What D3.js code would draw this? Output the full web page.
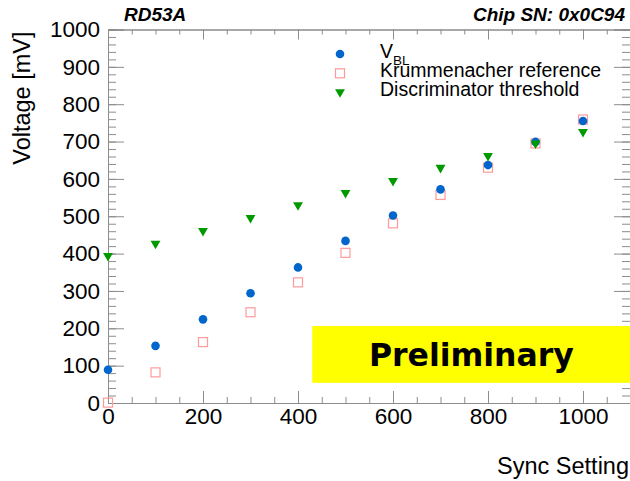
<!DOCTYPE html>
<html>
<head>
<meta charset="utf-8">
<script src="https://cdn.jsdelivr.net/npm/d3@7"></script>
<style>
  body { margin: 0; background: #fff; }
  svg { display: block; font-family: "Liberation Sans", Arial, sans-serif; }
</style>
</head>
<body>
<div id="chart"></div>
<script>
// data
const syncSetting = [0, 100, 200, 300, 400, 500, 600, 700, 800, 900, 1000]
const vbl = [89, 153, 224, 294, 363, 434, 502, 572, 637, 699, 755]
const krummenacher = [1, 82, 163, 243, 323, 402, 481, 557, 630, 695, 759]
const discThreshold = [394, 427, 461, 496, 530, 563, 595, 630, 662, 695, 726]

const xMajor = [0, 200, 400, 600, 800, 1000]
const yMajor = [0, 100, 200, 300, 400, 500, 600, 700, 800, 900, 1000]

const width = 630
const height = 481
const margin = {top: 29.5, right: 0, bottom: 78, left: 108}

const x = d3.scaleLinear().domain([0, 1100]).range([margin.left, 630.5])
const y = d3.scaleLinear().domain([0, 1000]).range([height - margin.bottom, margin.top])

const axisColor = '#8c8c8c'

const svg = d3.create('svg')
  .attr('width', width)
  .attr('height', height)
  .attr('viewBox', [0, 0, width, height])

document.getElementById('chart').appendChild(svg.node())

// frame ticks: minor first, then major
const xMinor = d3.range(0, 1101, 50)
const yMinor = d3.range(0, 1001, 20)

const styleAxis = g => {
  g.select('.domain').attr('stroke', axisColor)
  g.selectAll('.tick line').attr('stroke', axisColor)
  g.selectAll('text').attr('fill', '#000').attr('font-size', 22.5)
    .attr('font-family', '"Liberation Sans", Arial, sans-serif')
}

// bottom
svg.append('g')
  .attr('transform', `translate(0,${y(0)})`)
  .call(d3.axisBottom(x).tickValues(xMinor).tickSize(-6).tickFormat(''))
  .call(styleAxis)
svg.append('g')
  .attr('transform', `translate(0,${y(0)})`)
  .call(d3.axisBottom(x).tickValues(xMajor).tickSize(-12).tickPadding(5).tickFormat(d3.format('d')))
  .call(styleAxis)

// top
svg.append('g')
  .attr('transform', `translate(0,${y(1000)})`)
  .call(d3.axisTop(x).tickValues(xMinor).tickSize(-5).tickFormat(''))
  .call(styleAxis)
svg.append('g')
  .attr('transform', `translate(0,${y(1000)})`)
  .call(d3.axisTop(x).tickValues(xMajor).tickSize(-10).tickFormat(''))
  .call(styleAxis)

// left
svg.append('g')
  .attr('transform', `translate(${x(0)},0)`)
  .call(d3.axisLeft(y).tickValues(yMinor).tickSize(-8).tickFormat(''))
  .call(styleAxis)
svg.append('g')
  .attr('transform', `translate(${x(0)},0)`)
  .call(d3.axisLeft(y).tickValues(yMajor).tickSize(-16).tickPadding(8).tickFormat(d3.format('d')))
  .call(styleAxis)

// right
svg.append('g')
  .attr('transform', `translate(${x(1100) - 0.5},0)`)
  .call(d3.axisRight(y).tickValues(yMinor).tickSize(-8).tickFormat(''))
  .call(styleAxis)
svg.append('g')
  .attr('transform', `translate(${x(1100) - 0.5},0)`)
  .call(d3.axisRight(y).tickValues(yMajor).tickSize(-16).tickFormat(''))
  .call(styleAxis)

// axis titles
svg.append('text')
  .attr('transform', `translate(30,${y(1000) + 2}) rotate(-90)`)
  .attr('text-anchor', 'end')
  .attr('font-size', 23.5)
  .text('Voltage [mV]')

svg.append('text')
  .attr('x', 629)
  .attr('y', 474)
  .attr('text-anchor', 'end')
  .attr('font-size', 23.5)
  .text('Sync Setting')

// header
svg.append('text')
  .attr('x', 124)
  .attr('y', 21)
  .attr('font-size', 19)
  .attr('font-weight', 'bold')
  .attr('font-style', 'italic')
  .text('RD53A')

svg.append('text')
  .attr('x', 625)
  .attr('y', 21)
  .attr('text-anchor', 'end')
  .attr('font-size', 19)
  .attr('font-weight', 'bold')
  .attr('font-style', 'italic')
  .text('Chip SN: 0x0C94')

// preliminary banner
svg.append('rect')
  .attr('x', x(430))
  .attr('y', y(206))
  .attr('width', x(1100) - x(430))
  .attr('height', y(54) - y(206))
  .attr('fill', '#ffff00')

svg.append('text')
  .attr('x', (x(430) + x(1100)) / 2)
  .attr('y', 366)
  .attr('text-anchor', 'middle')
  .attr('font-family', '"DejaVu Sans", sans-serif')
  .attr('font-weight', 'bold')
  .attr('font-size', 31.5)
  .text('Preliminary')

// markers
const blue = '#0066cc'
const pink = '#ff9a9a'
const green = '#009900'
const tri = d3.symbol().type(d3.symbolTriangle).size(42)

svg.append('g')
  .selectAll('rect')
  .data(syncSetting.map((s, i) => ({s, v: krummenacher[i]})))
  .join('rect')
    .attr('x', d => x(d.s) - 4.5)
    .attr('y', d => y(d.v) - 4.5)
    .attr('width', 9)
    .attr('height', 9)
    .attr('fill', 'none')
    .attr('stroke', pink)
    .attr('stroke-width', 1.2)

svg.append('g')
  .selectAll('circle')
  .data(syncSetting.map((s, i) => ({s, v: vbl[i]})))
  .join('circle')
    .attr('cx', d => x(d.s))
    .attr('cy', d => y(d.v))
    .attr('r', 4.3)
    .attr('fill', blue)

svg.append('g')
  .selectAll('path')
  .data(syncSetting.map((s, i) => ({s, v: discThreshold[i]})))
  .join('path')
    .attr('d', tri)
    .attr('transform', d => `translate(${x(d.s)},${y(d.v)}) rotate(180)`)
    .attr('fill', green)

// legend
const legend = svg.append('g')
legend.append('circle').attr('cx', 340).attr('cy', 54).attr('r', 4.3).attr('fill', blue)
legend.append('rect').attr('x', 335.5).attr('y', 68.8).attr('width', 9).attr('height', 9)
  .attr('fill', 'none').attr('stroke', pink).attr('stroke-width', 1.2)
legend.append('path').attr('d', tri).attr('transform', 'translate(340,92) rotate(180)').attr('fill', green)

const vText = legend.append('text').attr('x', 380).attr('y', 58).attr('font-size', 19.5)
vText.append('tspan').text('V')
vText.append('tspan').attr('font-size', 13.5).attr('dy', 7).text('BL')

legend.append('text').attr('x', 380).attr('y', 77).attr('font-size', 19.5).text('Krummenacher reference')
legend.append('text').attr('x', 380).attr('y', 96).attr('font-size', 19.5).text('Discriminator threshold')
</script>
</body>
</html>
